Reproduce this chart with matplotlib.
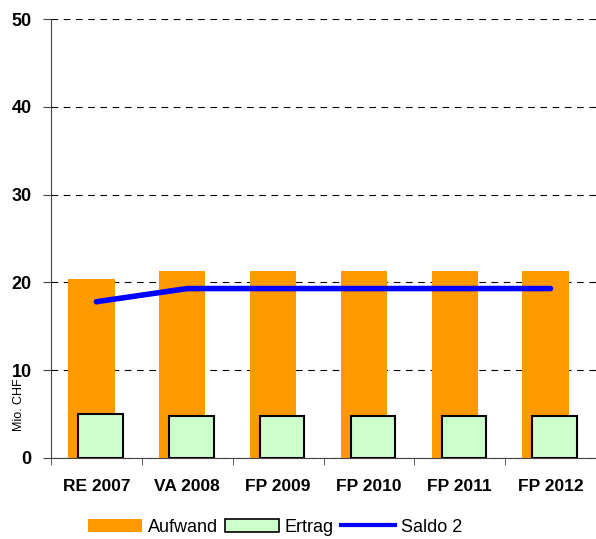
import numpy as np
import matplotlib.pyplot as plt
from matplotlib.patches import Patch
from matplotlib.lines import Line2D

plt.rcParams['font.family'] = ['Liberation Sans', 'DejaVu Sans']

jahre = ['RE 2007', 'VA 2008', 'FP 2009', 'FP 2010', 'FP 2011', 'FP 2012']
aufwand = [20.4, 21.3, 21.3, 21.3, 21.3, 21.3]
ertrag = [5.0, 4.8, 4.8, 4.8, 4.8, 4.8]
saldo2 = [17.8, 19.3, 19.3, 19.3, 19.3, 19.3]

fig = plt.figure(figsize=(5.96, 5.39), dpi=100)
ax = fig.add_axes([51/596, 81/539, 545/596, 439/539])

x = np.arange(len(jahre))
ax.bar(x - 0.055, aufwand, width=0.51, color='#ff9900', zorder=2)
ax.bar(x + 0.045, ertrag, width=0.49, color='#ccffcc', edgecolor='black', linewidth=1.5, zorder=3)
ax.plot(x, saldo2, color='#0000ff', linewidth=4, solid_capstyle='round', zorder=4)

ax.set_xlim(-0.5, len(jahre) - 0.5)
ax.set_ylim(0, 50)
ax.set_yticks([0, 10, 20, 30, 40, 50])
ax.yaxis.grid(True, color='black', linestyle=(0, (6, 5)), linewidth=0.8, zorder=1)
ax.set_axisbelow(True)

ax.set_xticks(x)
ax.set_xticklabels(jahre, fontsize=12.5, fontweight='bold')
ax.set_xticks(np.arange(len(jahre) + 1) - 0.5, minor=True)
ax.tick_params(axis='x', which='major', length=0, pad=15)
ax.tick_params(axis='x', which='minor', length=5, direction='out', color='#444444')
ax.tick_params(axis='y', length=6, direction='out', color='#444444', pad=8)
for lab in ax.get_yticklabels():
    lab.set_fontweight('bold')
    lab.set_fontsize(13)

ax.spines['top'].set_visible(False)
ax.spines['right'].set_visible(False)
ax.spines['left'].set_color('#444444')
ax.spines['bottom'].set_color('#444444')

fig.text(19/596, 1 - 405/539, 'Mio. CHF', rotation=90, fontsize=9, ha='center', va='center')

handles = [Patch(facecolor='#ff9900', edgecolor='none'),
           Patch(facecolor='#ccffcc', edgecolor='black', linewidth=1.2),
           Line2D([0], [0], color='#0000ff', linewidth=3)]
fig.legend(handles, ['Aufwand', 'Ertrag', 'Saldo 2'], loc='center', ncol=3,
           bbox_to_anchor=(275/596, 1 - 527/539), frameon=False, fontsize=13,
           handlelength=3.0, handletextpad=0.3, columnspacing=0.4, handleheight=0.7)

fig.savefig('out.png', dpi=100)
